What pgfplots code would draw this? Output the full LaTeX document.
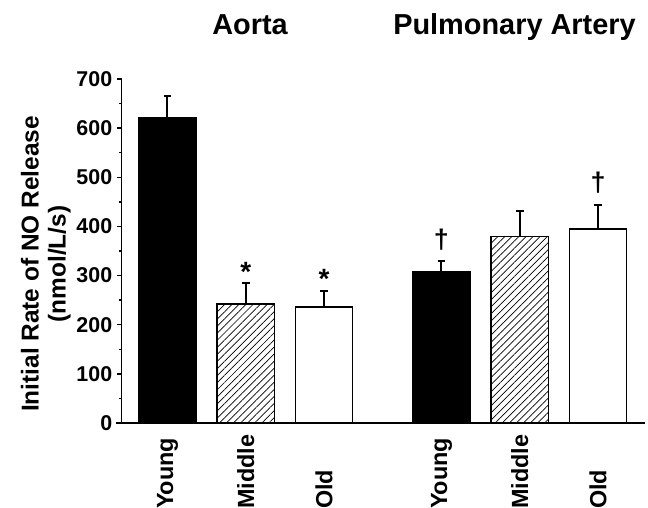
\documentclass[border=0pt]{standalone}
\usepackage{fontspec}
\setmainfont{Liberation Sans}
\usepackage{pgfplots}
\pgfplotsset{compat=1.18}
\usetikzlibrary{patterns.meta}
\begin{document}
\begin{tikzpicture}
\begin{axis}[
  at={(0,0)}, anchor=south west,
  scale only axis, width=523.3bp, height=344bp,
  xmin=-0.585, xmax=6.10, ymin=0, ymax=700,
  axis x line*=bottom, axis y line*=left,
  axis line style={line width=1.4bp},
  x axis line style={shorten <=-6bp},
  clip=false,
  /pgf/number format/assume math mode=true,
  ytick={0,100,...,700}, minor y tick num=1,
  tick align=outside,
  major tick length=4.5bp, minor tick length=3bp,
  y tick style={line width=1.3bp, black},
  xtick={0,1,2,3.5,4.5,5.5},
  xticklabels={Young,Middle,Old,Young,Middle,Old},
  x tick style={draw=none},
  yticklabel style={font=\fontsize{21.5}{24}\selectfont\bfseries, xshift=-1.5bp},
  xticklabel style={font=\fontsize{23.5}{26}\selectfont\bfseries, rotate=90, anchor=west},
  xticklabel shift={85bp},
  ylabel={Initial Rate of NO Release\\(nmol/L/s)},
  ylabel style={font=\fontsize{24.5}{27}\selectfont\bfseries, align=center, at={(axis description cs:-0.145,0.462)}, anchor=center},
]
\addplot[ybar, bar shift=0pt, bar width=0.73, fill=black, draw=black, line width=1.5bp,
  error bars/.cd, y dir=plus, y explicit,
  error bar style={line width=2bp, black},
  error mark options={rotate=90, line width=2bp, mark size=3.8bp, black}]
  table[x=x, y=y, y error=e] {
x y e
0 621 45
3.5 307 23
};
\addplot[ybar, bar shift=0pt, bar width=0.73, pattern={Lines[angle=45,distance=5bp,line width=0.7bp]}, pattern color=black, draw=black, line width=1.5bp,
  error bars/.cd, y dir=plus, y explicit,
  error bar style={line width=2bp, black},
  error mark options={rotate=90, line width=2bp, mark size=3.8bp, black}]
  table[x=x, y=y, y error=e] {
x y e
1 242 43
4.5 379 53
};
\addplot[ybar, bar shift=0pt, bar width=0.73, fill=white, draw=black, line width=1.5bp,
  error bars/.cd, y dir=plus, y explicit,
  error bar style={line width=2bp, black},
  error mark options={rotate=90, line width=2bp, mark size=3.8bp, black}]
  table[x=x, y=y, y error=e] {
x y e
2 236 33
5.5 395 49
};
\node[font=\fontsize{28}{30}\selectfont\bfseries, yshift=-4bp] at (axis cs:1,316) {*};
\node[font=\fontsize{28}{30}\selectfont\bfseries, yshift=-4bp] at (axis cs:2,301) {*};
\node[font=\fontsize{27}{30}\selectfont\bfseries] at (axis cs:3.5,373) {†};
\node[font=\fontsize{27}{30}\selectfont\bfseries] at (axis cs:5.5,489) {†};
\end{axis}
\node[font=\fontsize{29}{34}\selectfont\bfseries, anchor=base] at (128.3bp,388bp) {Aorta};
\node[font=\fontsize{29}{34}\selectfont\bfseries, anchor=base] at (392.8bp,388bp) {Pulmonary Artery};
\pgfresetboundingbox
\path[use as bounding box] (-121.7bp,-85bp) rectangle (526.3bp,423bp);
\end{tikzpicture}
\end{document}
